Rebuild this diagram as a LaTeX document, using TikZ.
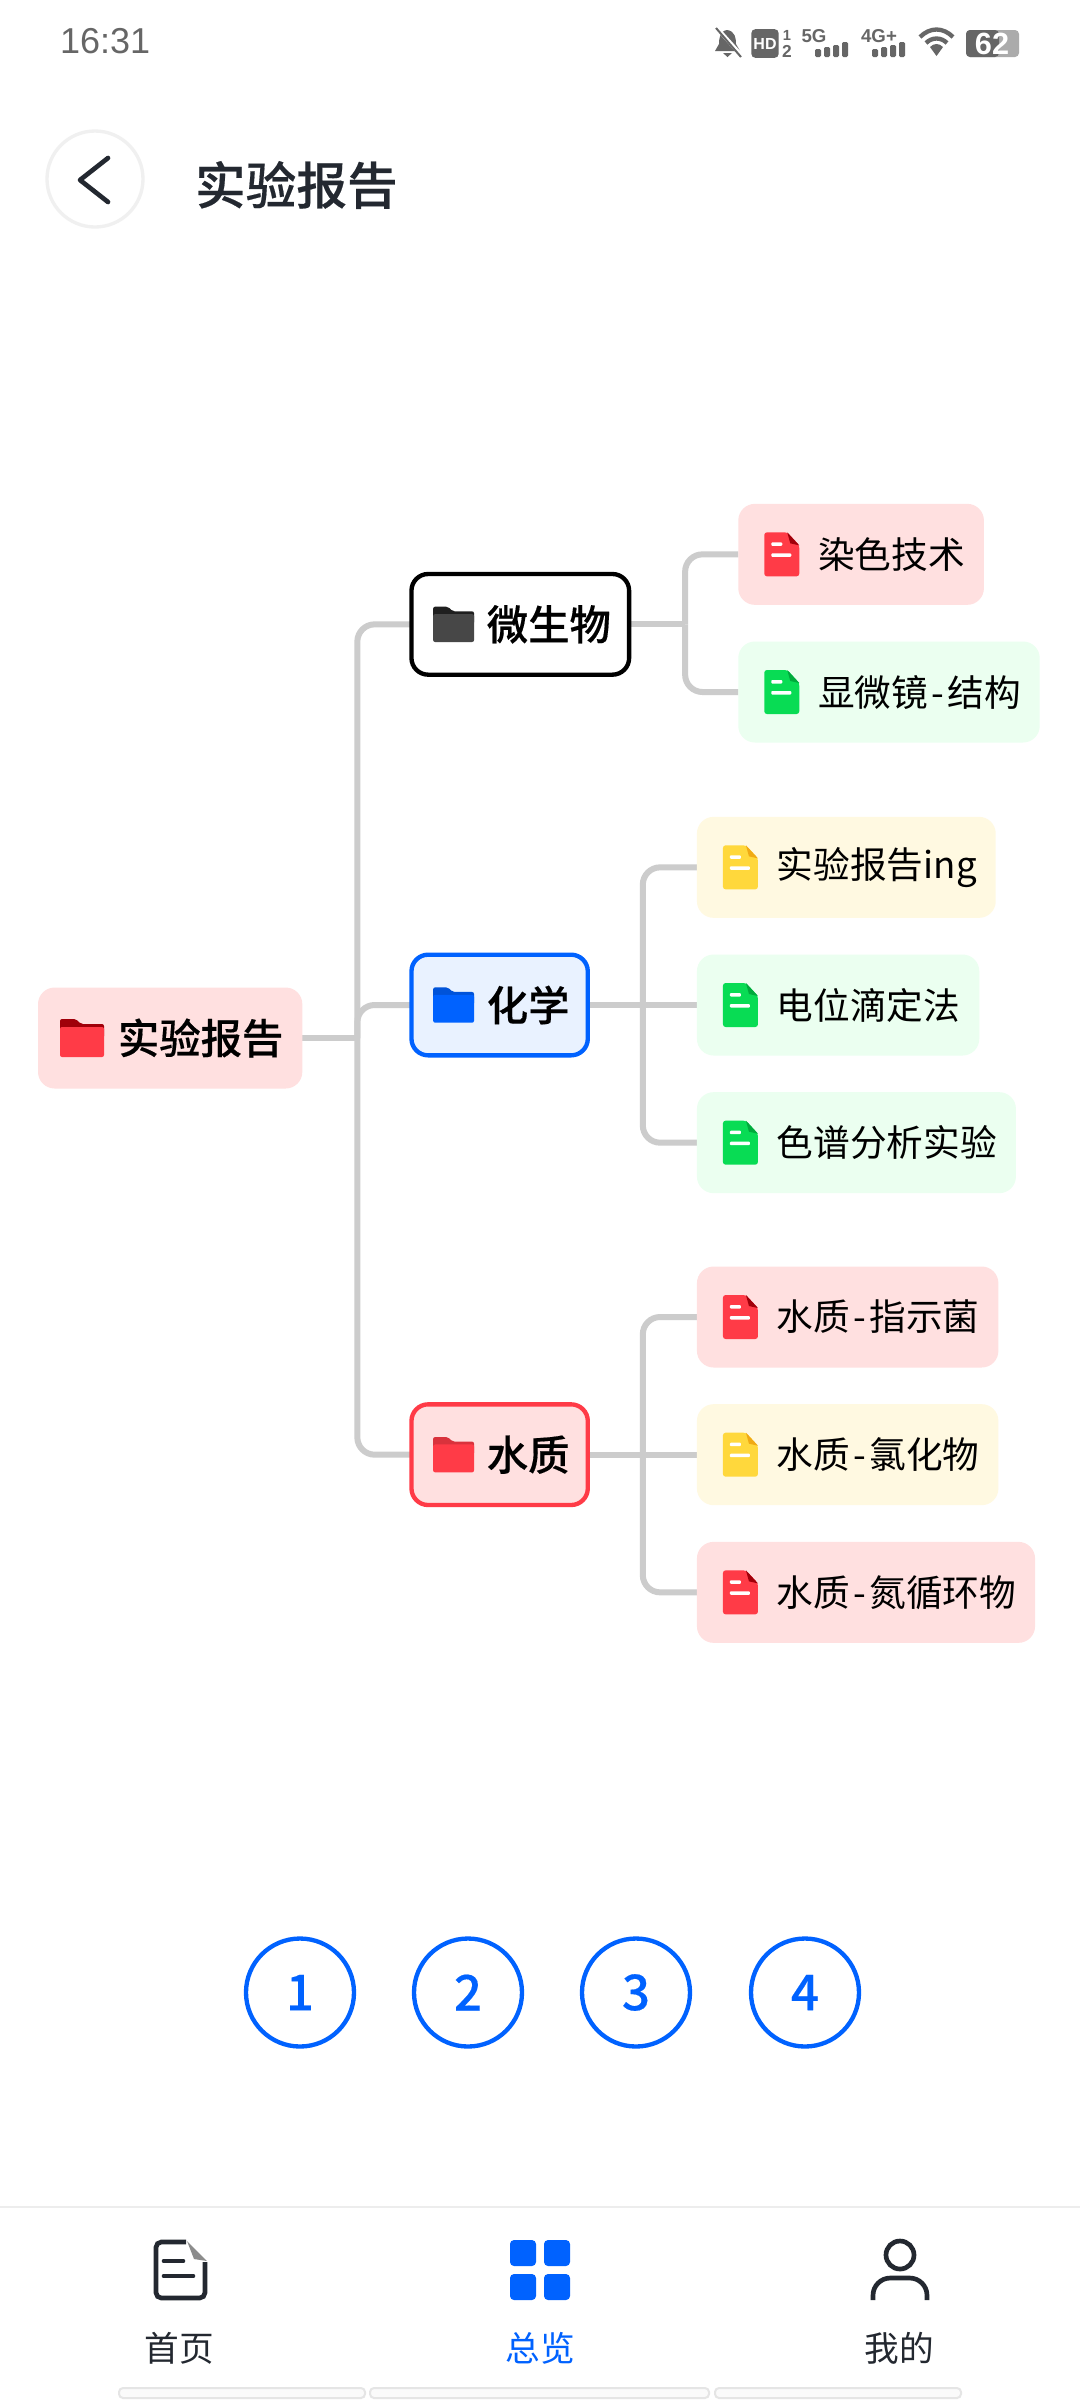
\documentclass[tikz,border=0pt]{standalone}
\usepackage{fontspec}
\setmainfont{Noto Sans CJK SC}[BoldFont={Noto Sans CJK SC Medium}, BoldFeatures={FakeBold=0.35}]
\newfontfamily\statusfont{Liberation Sans}
\usepackage{xcolor}
\usepackage{tikz}
\usetikzlibrary{positioning,calc,backgrounds}
\definecolor{mapred}{RGB}{255,59,71}
\definecolor{mapdarkred}{RGB}{160,0,10}
\definecolor{mapredbg}{RGB}{255,224,224}
\definecolor{mapblue}{RGB}{0,98,255}
\definecolor{mapbluebg}{RGB}{233,242,255}
\definecolor{mapgreen}{RGB}{8,220,84}
\definecolor{mapdarkgreen}{RGB}{0,170,60}
\definecolor{mapgreenbg}{RGB}{235,255,240}
\definecolor{mapyellow}{RGB}{255,216,60}
\definecolor{mapdarkyellow}{RGB}{240,170,20}
\definecolor{mapyellowbg}{RGB}{255,249,225}
\definecolor{mapline}{RGB}{204,204,204}
\definecolor{mapink}{RGB}{35,40,48}
\definecolor{statusgray}{RGB}{102,102,102}
\newcommand{\widedash}{\kern2.4pt-\kern2.4pt}
\tikzset{
    pics/foldericon/.style 2 args={code={
        \fill[#2, rounded corners=1.5pt] (0,-19) -- (16,-19) -- (21,-14) -- (44,-14) -- (44,0) -- (0,0) -- cycle;
        \fill[#1, rounded corners=1.5pt] (0,-11) rectangle (44,19);
    }},
    pics/docicon/.style 2 args={code={
        \fill[#1, rounded corners=2pt] (0,-22) -- (23,-22) -- (35,-9) -- (35,22) -- (0,22) -- cycle;
        \fill[#2] (23,-22) -- (35,-9) -- (26,-11) -- cycle;
        \fill[white, rounded corners=0.7pt] (7,-12) rectangle (18,-8.5);
        \fill[white, rounded corners=0.7pt] (7,-1) rectangle (27,2.5);
    }}
}
\begin{document}
\begin{tikzpicture}[
        x=0.75pt, y=-0.75pt,
        node distance=81.85pt,
        every node/.style={outer sep=0pt},
        rootbox/.style={rectangle, rounded corners=12.5pt, fill=mapredbg, inner xsep=14.25pt, inner ysep=0pt, minimum height=75.75pt,
            font=\fontsize{31}{33}\selectfont\bfseries, execute at begin node={\hspace*{45.75pt}}},
        branchbox/.style={rectangle, rounded corners=12.5pt, draw=#1, line width=3.25pt, inner xsep=13.7pt, inner ysep=0pt, minimum height=75.5pt,
            font=\fontsize{31}{33}\selectfont\bfseries, execute at begin node={\hspace*{42.85pt}}},
        leafbox/.style={rectangle, rounded corners=12.5pt, fill=#1, inner xsep=14.25pt, inner ysep=0pt, minimum height=75.75pt,
            font=\fontsize{27.5}{30}\selectfont, execute at begin node={\hspace*{45.75pt}}},
        link/.style={draw=mapline, line width=4.5pt, rounded corners=13pt},
        pagebtn/.style={circle, draw=mapblue, line width=3.25pt, fill=white, minimum size=81pt, inner sep=0pt, text=mapblue,
            font=\fontsize{37}{39}\selectfont\bfseries},
        tabtext/.style={font=\fontsize{26}{28}\selectfont},
        tiny/.style={text=statusgray, inner sep=0pt, font=\statusfont\bfseries\fontsize{14}{15}\selectfont}
    ]
        \useasboundingbox (0,0) rectangle (1080,2400);

        % Status bar
        \node[text=statusgray, inner sep=0pt, anchor=west, font=\statusfont\fontsize{27}{28}\selectfont] (clock) at (60,41) {16:31};
        \fill[statusgray] (727,30) .. controls (720,31) and (719,38) .. (719,44) -- (715,51) -- (740,51) -- (736,44) .. controls (736,38) and (735,31) .. (727,30) -- cycle;
        \fill[statusgray] (723,53) -- (732,53) -- (727.5,57) -- cycle;
        \draw[white, line width=3pt] (716,27) -- (742,56);
        \draw[statusgray, line width=1.5pt] (716,28) -- (741,57);
        \node[fill=statusgray, text=white, rounded corners=3pt, minimum width=20.5pt, minimum height=21.5pt, inner sep=0pt, font=\statusfont\bfseries\fontsize{12}{13}\selectfont] (hd) at (765,43.5) {HD};
        \node[tiny, font=\statusfont\bfseries\fontsize{11}{12}\selectfont] (simone) at (787,35) {1};
        \node[tiny, font=\statusfont\bfseries\fontsize{13}{14}\selectfont] (simtwo) at (787,51) {2};
        \node[tiny] (fiveg) at (814,36) {5G};
        \node[tiny] (fourg) at (879,36) {4G+};
        \foreach \barx/\bartop in {0/49,9/47,18/45,27/42} {
            \fill[statusgray, rounded corners=1pt] (815+\barx,\bartop) rectangle +(6,57-\bartop);
            \fill[statusgray, rounded corners=1pt] (872+\barx,\bartop) rectangle +(6,57-\bartop);
        }
        \draw[statusgray, line width=3.25pt] (920,37) .. controls (930,27) and (943,27) .. (953,37);
        \draw[statusgray, line width=3.25pt] (926,43) .. controls (932,37) and (941,37) .. (947,43);
        \fill[statusgray] (930,47) .. controls (934,43) and (939,43) .. (943,47) -- (936.5,56) -- cycle;
        \fill[statusgray!55, rounded corners=3pt] (966,30) rectangle (1019,57);
        \fill[statusgray, rounded corners=3pt] (966,30) rectangle (999,57);
        \node[text=white, inner sep=0pt, font=\statusfont\bfseries\fontsize{23}{24}\selectfont] (battery) at (992,43.5) {62};

        % Header
        \node[circle, draw=black!6, line width=2.5pt, fill=white, minimum size=72pt, inner sep=0pt] (backbtn) at (95,179) {};
        \draw[mapink, line width=3.5pt, line cap=round, line join=round] (108,158) -- (80,180) -- (108,202);
        \node[anchor=west, inner sep=0pt, text=mapink, font=\fontsize{38}{41}\selectfont\bfseries] (title) at (195,185) {实验报告};

        % Mind map boxes
        \node[rootbox, anchor=west] (root) at (38,1038) {实验报告};
        \node[branchbox=mapblue, fill=mapbluebg, right=of root, yshift=24.75pt] (chem) {化学};
        \node[branchbox=black, fill=white, above=210pt of chem.north west, anchor=south west] (micro) {微生物};
        \node[branchbox=mapred, fill=mapredbg, below=261.75pt of chem.south west, anchor=north west] (water) {水质};

        \node[leafbox=mapredbg, right=of micro, yshift=52.5pt] (stain) {染色技术};
        \node[leafbox=mapgreenbg, below=27.5pt of stain.south west, anchor=north west] (scope) {显微镜\widedash 结构};

        \node[leafbox=mapgreenbg, right=of chem] (potent) {电位滴定法};
        \node[leafbox=mapyellowbg, above=27.5pt of potent.north west, anchor=south west] (report) {实验报告ing};
        \node[leafbox=mapgreenbg, below=27.5pt of potent.south west, anchor=north west] (chroma) {色谱分析实验};

        \node[leafbox=mapyellowbg, right=of water] (chlorid) {水质\widedash 氯化物};
        \node[leafbox=mapredbg, above=27.5pt of chlorid.north west, anchor=south west] (indicator) {水质\widedash 指示菌};
        \node[leafbox=mapredbg, below=27.5pt of chlorid.south west, anchor=north west] (nitrogen) {水质\widedash 氮循环物};

        % Connectors
        \coordinate (rootjoin) at ($(root.east)+(41.25pt,0)$);
        \coordinate (microjoin) at ($(micro.east)+(42pt,0)$);
        \coordinate (chemjoin) at ($(chem.east)+(41.25pt,0)$);
        \coordinate (waterjoin) at ($(water.east)+(41.25pt,0)$);
        \begin{scope}[on background layer]
            \fill[white] (0,0) rectangle (1080,2400);
            \draw[link] (root) -- (rootjoin);
            \draw[link] (rootjoin) |- (micro);
            \draw[link] (rootjoin) |- (chem);
            \draw[link] (rootjoin) |- (water);
            \draw[link] (micro) -- (microjoin);
            \draw[link] (microjoin) |- (stain);
            \draw[link] (microjoin) |- (scope);
            \draw[link] (chem) -- (potent);
            \draw[link] (chemjoin) |- (report);
            \draw[link] (chemjoin) |- (chroma);
            \draw[link] (water) -- (chlorid);
            \draw[link] (waterjoin) |- (indicator);
            \draw[link] (waterjoin) |- (nitrogen);
        \end{scope}

        % Icons
        \pic at ([xshift=16.5pt]root.west) {foldericon={mapred}{mapdarkred}};
        \pic[scale=0.93] at ([xshift=16.25pt]micro.west) {foldericon={black!72}{black!88}};
        \pic[scale=0.93] at ([xshift=16.25pt]chem.west) {foldericon={mapblue}{mapblue!85!black}};
        \pic[scale=0.93] at ([xshift=16.25pt]water.west) {foldericon={mapred}{mapred!85!black}};
        \foreach \leaf/\docfill/\docfold in {stain/mapred/mapdarkred, scope/mapgreen/mapdarkgreen, report/mapyellow/mapdarkyellow,
            potent/mapgreen/mapdarkgreen, chroma/mapgreen/mapdarkgreen, indicator/mapred/mapdarkred,
            chlorid/mapyellow/mapdarkyellow, nitrogen/mapred/mapdarkred} {
            \pic at ([xshift=19.5pt]\leaf.west) {docicon={\docfill}{\docfold}};
        }

        % Page buttons
        \foreach \n/\cx in {1/300,2/468,3/636,4/805} {
            \node[pagebtn] (page\n) at (\cx,1992.5) {\n};
        }

        % Bottom bar
        \draw[black!7, line width=2pt] (0,2207) -- (1080,2207);
        \draw[mapink, line width=3.5pt, rounded corners=4pt] (186,2242) -- (156,2242) -- (156,2298) -- (205,2298) -- (205,2262);
        \fill[black!45] (187,2241) -- (207,2261) -- (194,2259) -- cycle;
        \draw[mapink, line width=3.5pt, line cap=round] (164,2261) -- (183,2261);
        \draw[mapink, line width=3.5pt, line cap=round] (164,2276) -- (193,2276);
        \node[tabtext, text=mapink, inner sep=0pt] (tabhome) at (179,2348) {首页};
        \foreach \gx/\gy in {510/2240,544/2240,510/2274,544/2274} {
            \fill[mapblue, rounded corners=3pt] (\gx,\gy) rectangle +(26,26);
        }
        \node[tabtext, text=mapblue, inner sep=0pt] (taboverview) at (540,2348) {总览};
        \draw[mapink, line width=3.5pt] (900,2255) circle (10.5pt);
        \draw[mapink, line width=3.5pt, rounded corners=13pt] (873,2300) -- (873,2278) -- (927,2278) -- (927,2300);
        \node[tabtext, text=mapink, inner sep=0pt] (tabme) at (899,2348) {我的};
        \foreach \sx/\sw in {119/246,370/339,715/246} {
            \draw[black!10, fill=black!2, line width=1.5pt, rounded corners=3pt] (\sx,2388) rectangle +(\sw,10);
        }
    \end{tikzpicture}
\end{document}
